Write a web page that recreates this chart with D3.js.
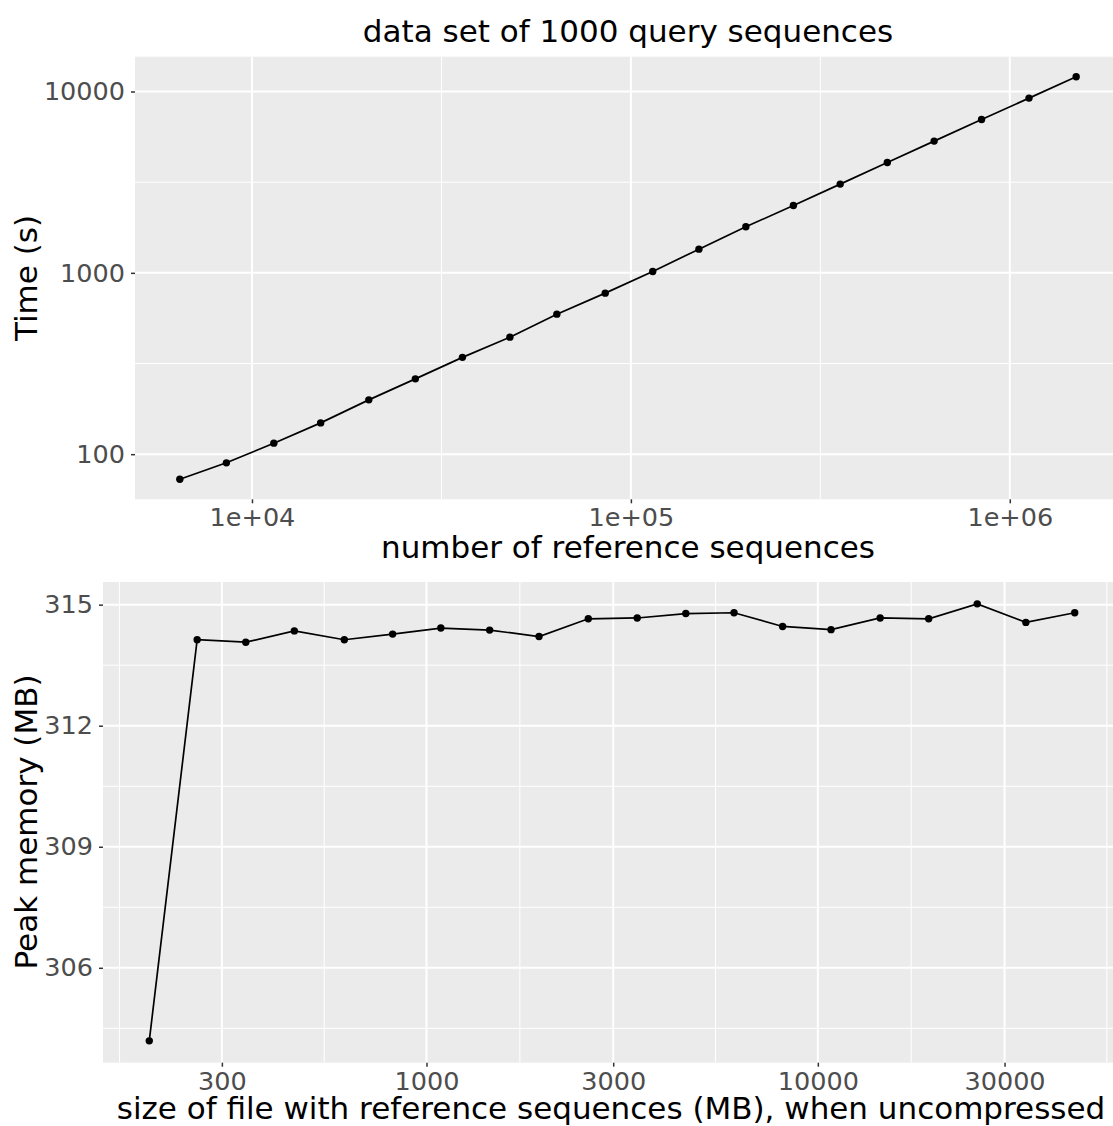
<!DOCTYPE html>
<html>
<head>
<meta charset="utf-8">
<script src="https://cdn.jsdelivr.net/npm/d3@7"></script>
<style>
	body { margin: 0; background: #fff; }
	svg { display: block; font-family: "DejaVu Sans", sans-serif; }
</style>
</head>
<body>
<div id="chart"></div>
<script>
"use strict";

// values
const refCounts = [6450, 8560, 11420, 15180, 20340, 26990, 35930, 47940, 63770, 85560,
	114200, 151200, 201100, 268500, 356800, 475100, 631400, 842400, 1124000, 1497000];
const timeSec = [72.8, 89.6, 115, 148.8, 199.3, 260.2, 341.9, 441.9, 591.7, 772.7,
	1017, 1351, 1794, 2351, 3085, 4060, 5326, 7007, 9196, 12050];

const fileSizeMB = [195.7, 259.4, 345.3, 459.5, 616.6, 819.3, 1088, 1450, 1939, 2591,
	3455, 4599, 6107, 8128, 10810, 14430, 19200, 25550, 34010, 45340];
const peakMemMB = [304.19, 314.13, 314.07, 314.35, 314.13, 314.27, 314.42, 314.37, 314.21, 314.65,
	314.67, 314.78, 314.80, 314.46, 314.38, 314.67, 314.65, 315.02, 314.56, 314.80];

const refTicks = [1e4, 1e5, 1e6];
const refTickLabels = ["1e+04", "1e+05", "1e+06"];
const timeTicks = [100, 1000, 10000];
const sizeTicks = [300, 1000, 3000, 10000, 30000];
const memTicks = [306, 309, 312, 315];

const W = 1113, H = 1126;
const svg = d3.select("#chart").append("svg").attr("width", W).attr("height", H);
svg.append("rect").attr("width", W).attr("height", H).attr("fill", "#fff");

// ggplot style 5% expansion of the data range
function expandLin(vals) {
	const [a, b] = d3.extent(vals);
	const e = (b - a) * 0.05;
	return [a - e, b + e];
}
function expandLog(vals) {
	const [a, b] = expandLin(vals.map(Math.log10));
	return [Math.pow(10, a), Math.pow(10, b)];
}

// minor breaks halfway between majors (in transformed space), extended one step each side
function minorBreaks(majors, tf, inv) {
	const b = majors.map(tf);
	const bd = b[1] - b[0];
	const all = [b[0] - bd, ...b, b[b.length - 1] + bd];
	const out = [];
	for (let i = 0; i < all.length - 1; i++) out.push(inv((all[i] + all[i + 1]) / 2));
	return out;
}

function panel(opts) {
	const { x, y, xs, ys, xTicks, xLabels, yTicks, yLabels, xMinor, yMinor } = opts;
	const [x0, x1] = x.range();
	const [y1, y0] = y.range();
	const g = svg.append("g");

	g.append("rect")
		.attr("x", x0).attr("y", y0)
		.attr("width", x1 - x0).attr("height", y1 - y0)
		.attr("fill", "#ebebeb");

	// minor grid
	g.selectAll(".vminor").data(xMinor.filter((d) => x(d) > x0 && x(d) < x1))
		.enter().append("line")
		.attr("x1", (d) => x(d)).attr("x2", (d) => x(d))
		.attr("y1", y0).attr("y2", y1)
		.attr("stroke", "#fff").attr("stroke-width", 1);
	g.selectAll(".hminor").data(yMinor.filter((d) => y(d) > y0 && y(d) < y1))
		.enter().append("line")
		.attr("x1", x0).attr("x2", x1)
		.attr("y1", (d) => y(d)).attr("y2", (d) => y(d))
		.attr("stroke", "#fff").attr("stroke-width", 1);

	// major grid
	g.selectAll(".vmajor").data(xTicks)
		.enter().append("line")
		.attr("x1", (d) => x(d)).attr("x2", (d) => x(d))
		.attr("y1", y0).attr("y2", y1)
		.attr("stroke", "#fff").attr("stroke-width", 2);
	g.selectAll(".hmajor").data(yTicks)
		.enter().append("line")
		.attr("x1", x0).attr("x2", x1)
		.attr("y1", (d) => y(d)).attr("y2", (d) => y(d))
		.attr("stroke", "#fff").attr("stroke-width", 2);

	// axes
	const xAxis = d3.axisBottom(x).tickValues(xTicks)
		.tickFormat((d, i) => xLabels[i]).tickSize(4).tickPadding(5);
	const yAxis = d3.axisLeft(y).tickValues(yTicks)
		.tickFormat((d, i) => yLabels[i]).tickSize(4).tickPadding(6);

	const gx = g.append("g").attr("transform", `translate(0,${y1})`).call(xAxis);
	const gy = g.append("g").attr("transform", `translate(${x0},0)`).call(yAxis);
	[gx, gy].forEach((a) => {
		a.select(".domain").remove();
		a.selectAll(".tick line").attr("stroke", "#333").attr("stroke-width", 1.5);
		a.selectAll(".tick text")
			.attr("fill", "#4d4d4d")
			.style("font-size", "25.5px")
			.style("font-family", "DejaVu Sans, sans-serif");
	});

	// data
	const pts = xs.map((d, i) => [d, ys[i]]);
	g.append("path")
		.datum(pts)
		.attr("fill", "none")
		.attr("stroke", "#000")
		.attr("stroke-width", 1.7)
		.attr("d", d3.line().x((d) => x(d[0])).y((d) => y(d[1])));
	g.selectAll(".pt").data(pts)
		.enter().append("circle")
		.attr("cx", (d) => x(d[0]))
		.attr("cy", (d) => y(d[1]))
		.attr("r", 3.7)
		.attr("fill", "#000");
	return g;
}

// top panel: time vs number of reference sequences
const xTop = d3.scaleLog().domain(expandLog(refCounts)).range([135, 1121]);
const yTop = d3.scaleLog().domain(expandLog(timeSec)).range([499.3, 56.7]);
panel({
	x: xTop, y: yTop, xs: refCounts, ys: timeSec,
	xTicks: refTicks, xLabels: refTickLabels,
	yTicks: timeTicks, yLabels: timeTicks.map(String),
	xMinor: minorBreaks(refTicks, Math.log10, (v) => Math.pow(10, v)),
	yMinor: minorBreaks(timeTicks, Math.log10, (v) => Math.pow(10, v)),
});

// bottom panel: peak memory vs file size
const xBot = d3.scaleLog().domain(expandLog(fileSizeMB)).range([103, 1121]);
const yBot = d3.scaleLinear().domain(expandLin(peakMemMB)).range([1062.7, 582]);
panel({
	x: xBot, y: yBot, xs: fileSizeMB, ys: peakMemMB,
	xTicks: sizeTicks, xLabels: sizeTicks.map(String),
	yTicks: memTicks, yLabels: memTicks.map(String),
	xMinor: minorBreaks(sizeTicks, Math.log10, (v) => Math.pow(10, v)),
	yMinor: minorBreaks(memTicks, (v) => v, (v) => v),
});

// titles
const txt = (s, x, y, rot) => {
	const t = svg.append("text")
		.text(s)
		.attr("text-anchor", "middle")
		.attr("fill", "#000")
		.style("font-size", "31px");
	if (rot) t.attr("transform", `translate(${x},${y}) rotate(-90)`);
	else t.attr("x", x).attr("y", y);
	return t;
};

txt("data set of 1000 query sequences", 628, 42);
txt("number of reference sequences", 628, 558);
txt("Time (s)", 37, 278, true);
txt("size of file with reference sequences (MB), when uncompressed", 611, 1119);
txt("Peak memory (MB)", 37, 822, true);
</script>
</body>
</html>
